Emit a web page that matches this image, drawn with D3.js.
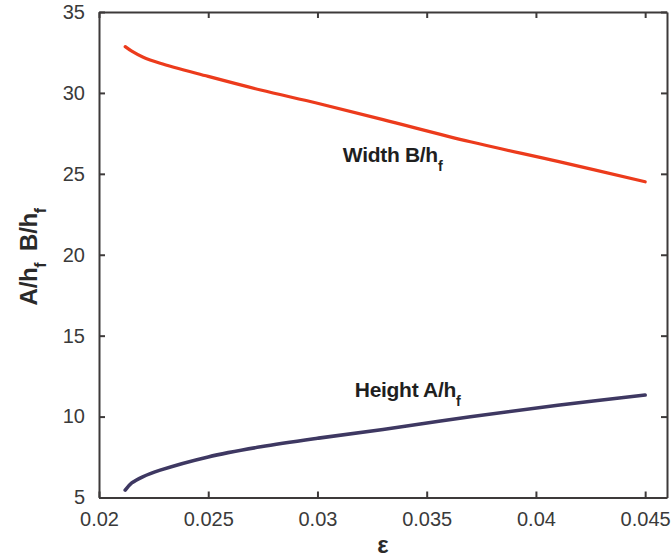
<!DOCTYPE html>
<html>
<head>
<meta charset="utf-8">
<script src="https://cdn.jsdelivr.net/npm/d3@7"></script>
<style>
  html, body { margin: 0; padding: 0; background: #fff; }
  svg { display: block; }
  text { font-family: "Liberation Sans", Arial, Helvetica, sans-serif; }
</style>
</head>
<body>
<svg id="chart" width="671" height="559"></svg>
<script>
// Strain ε and the normalised wrinkle dimensions
const strain  = [0.0212, 0.0215, 0.0220, 0.0228, 0.0250, 0.0274, 0.0300, 0.0330, 0.0370, 0.0410, 0.0450];
const widthB  = [32.86, 32.58, 32.22, 31.83, 31.02, 30.18, 29.36, 28.35, 26.98, 25.77, 24.51];
const heightA = [5.46, 5.90, 6.28, 6.69, 7.51, 8.13, 8.66, 9.20, 9.99, 10.70, 11.33];

const xTicks = [0.02, 0.025, 0.03, 0.035, 0.04, 0.045];
const yTicks = [5, 10, 15, 20, 25, 30, 35];
const xTickLabels = ["0.02", "0.025", "0.03", "0.035", "0.04", "0.045"];

const svg = d3.select("#chart");
const margin = { left: 99, right: 4, top: 12, bottom: 61.5 };
const W = 671, H = 559;

const x = d3.scaleLinear().domain([0.02, 0.046]).range([margin.left, W - margin.right]);
const y = d3.scaleLinear().domain([5, 35]).range([H - margin.bottom, margin.top]);

const axisColor = "#3d3a3a";
const tickLen = 6;

// Axes: ticks point inward and are mirrored on top and right
const gBottom = svg.append("g").attr("transform", `translate(0,${y(5)})`)
  .call(d3.axisBottom(x).tickValues(xTicks).tickSizeInner(-tickLen).tickSizeOuter(0)
        .tickFormat((d, i) => xTickLabels[i]).tickPadding(14));
const gTop = svg.append("g").attr("transform", `translate(0,${y(35)})`)
  .call(d3.axisTop(x).tickValues(xTicks).tickSizeInner(-tickLen).tickSizeOuter(0).tickFormat(""));
const gLeft = svg.append("g").attr("transform", `translate(${x(0.02)},0)`)
  .call(d3.axisLeft(y).tickValues(yTicks).tickSizeInner(-tickLen).tickSizeOuter(0).tickPadding(14));
const gRight = svg.append("g").attr("transform", `translate(${x(0.046)},0)`)
  .call(d3.axisRight(y).tickValues(yTicks).tickSizeInner(-tickLen).tickSizeOuter(0).tickFormat(""));

[gBottom, gTop, gLeft, gRight].forEach(g => {
  g.select(".domain").attr("stroke", axisColor).attr("stroke-width", 2);
  g.selectAll(".tick line").attr("stroke", axisColor).attr("stroke-width", 2);
  g.selectAll(".tick text")
    .attr("fill", "#3a3a3a")
    .style("font-size", "20px")
    .style("font-family", "'Liberation Sans', Arial, sans-serif");
});
gBottom.selectAll(".tick text").attr("dy", "0.71em");

// Curves
const line = vals => d3.line()
  .x((d, i) => x(strain[i]))
  .y(d => y(d))
  .curve(d3.curveCatmullRom.alpha(0.5))(vals);

svg.append("path")
  .attr("d", line(widthB))
  .attr("fill", "none")
  .attr("stroke", "#ec3b1c")
  .attr("stroke-width", 3.2)
  .attr("stroke-linecap", "round");

svg.append("path")
  .attr("d", line(heightA))
  .attr("fill", "none")
  .attr("stroke", "#3e3862")
  .attr("stroke-width", 3.6)
  .attr("stroke-linecap", "round");

// Curve annotations
function subLabel(sel, main, sub, size) {
  sel.append("tspan").text(main);
  sel.append("tspan").text(sub).attr("dy", size * 0.42).style("font-size", (size * 0.68) + "px");
}

const wLab = svg.append("text")
  .attr("x", x(0.03116)).attr("y", y(25.73))
  .attr("fill", "#1f1f1f").style("font-size", "21px").style("font-weight", "bold")
  .style("letter-spacing", "-0.3px");
subLabel(wLab, "Width B/h", "f", 21);

const hLab = svg.append("text")
  .attr("x", x(0.03171)).attr("y", y(11.22))
  .attr("fill", "#1f1f1f").style("font-size", "21px").style("font-weight", "bold")
  .style("letter-spacing", "-0.3px");
subLabel(hLab, "Height A/h", "f", 21);

// Axis titles
svg.append("text")
  .attr("x", (x(0.02) + x(0.046)) / 2).attr("y", 553)
  .attr("text-anchor", "middle")
  .attr("fill", "#2a2a2a").style("font-size", "24px").style("font-weight", "bold")
  .text("ε");

const yTitle = svg.append("text")
  .attr("transform", `translate(37,${(y(5) + y(35)) / 2 + 2}) rotate(-90)`)
  .attr("text-anchor", "middle")
  .attr("fill", "#2a2a2a").style("font-size", "24px").style("font-weight", "bold")
  .style("letter-spacing", "-0.3px");
yTitle.append("tspan").text("A/h");
yTitle.append("tspan").text("f").attr("dy", 9).style("font-size", "16px");
yTitle.append("tspan").text("\u2002B/h").attr("dy", -9);
yTitle.append("tspan").text("f").attr("dy", 9).style("font-size", "16px");
</script>
</body>
</html>
